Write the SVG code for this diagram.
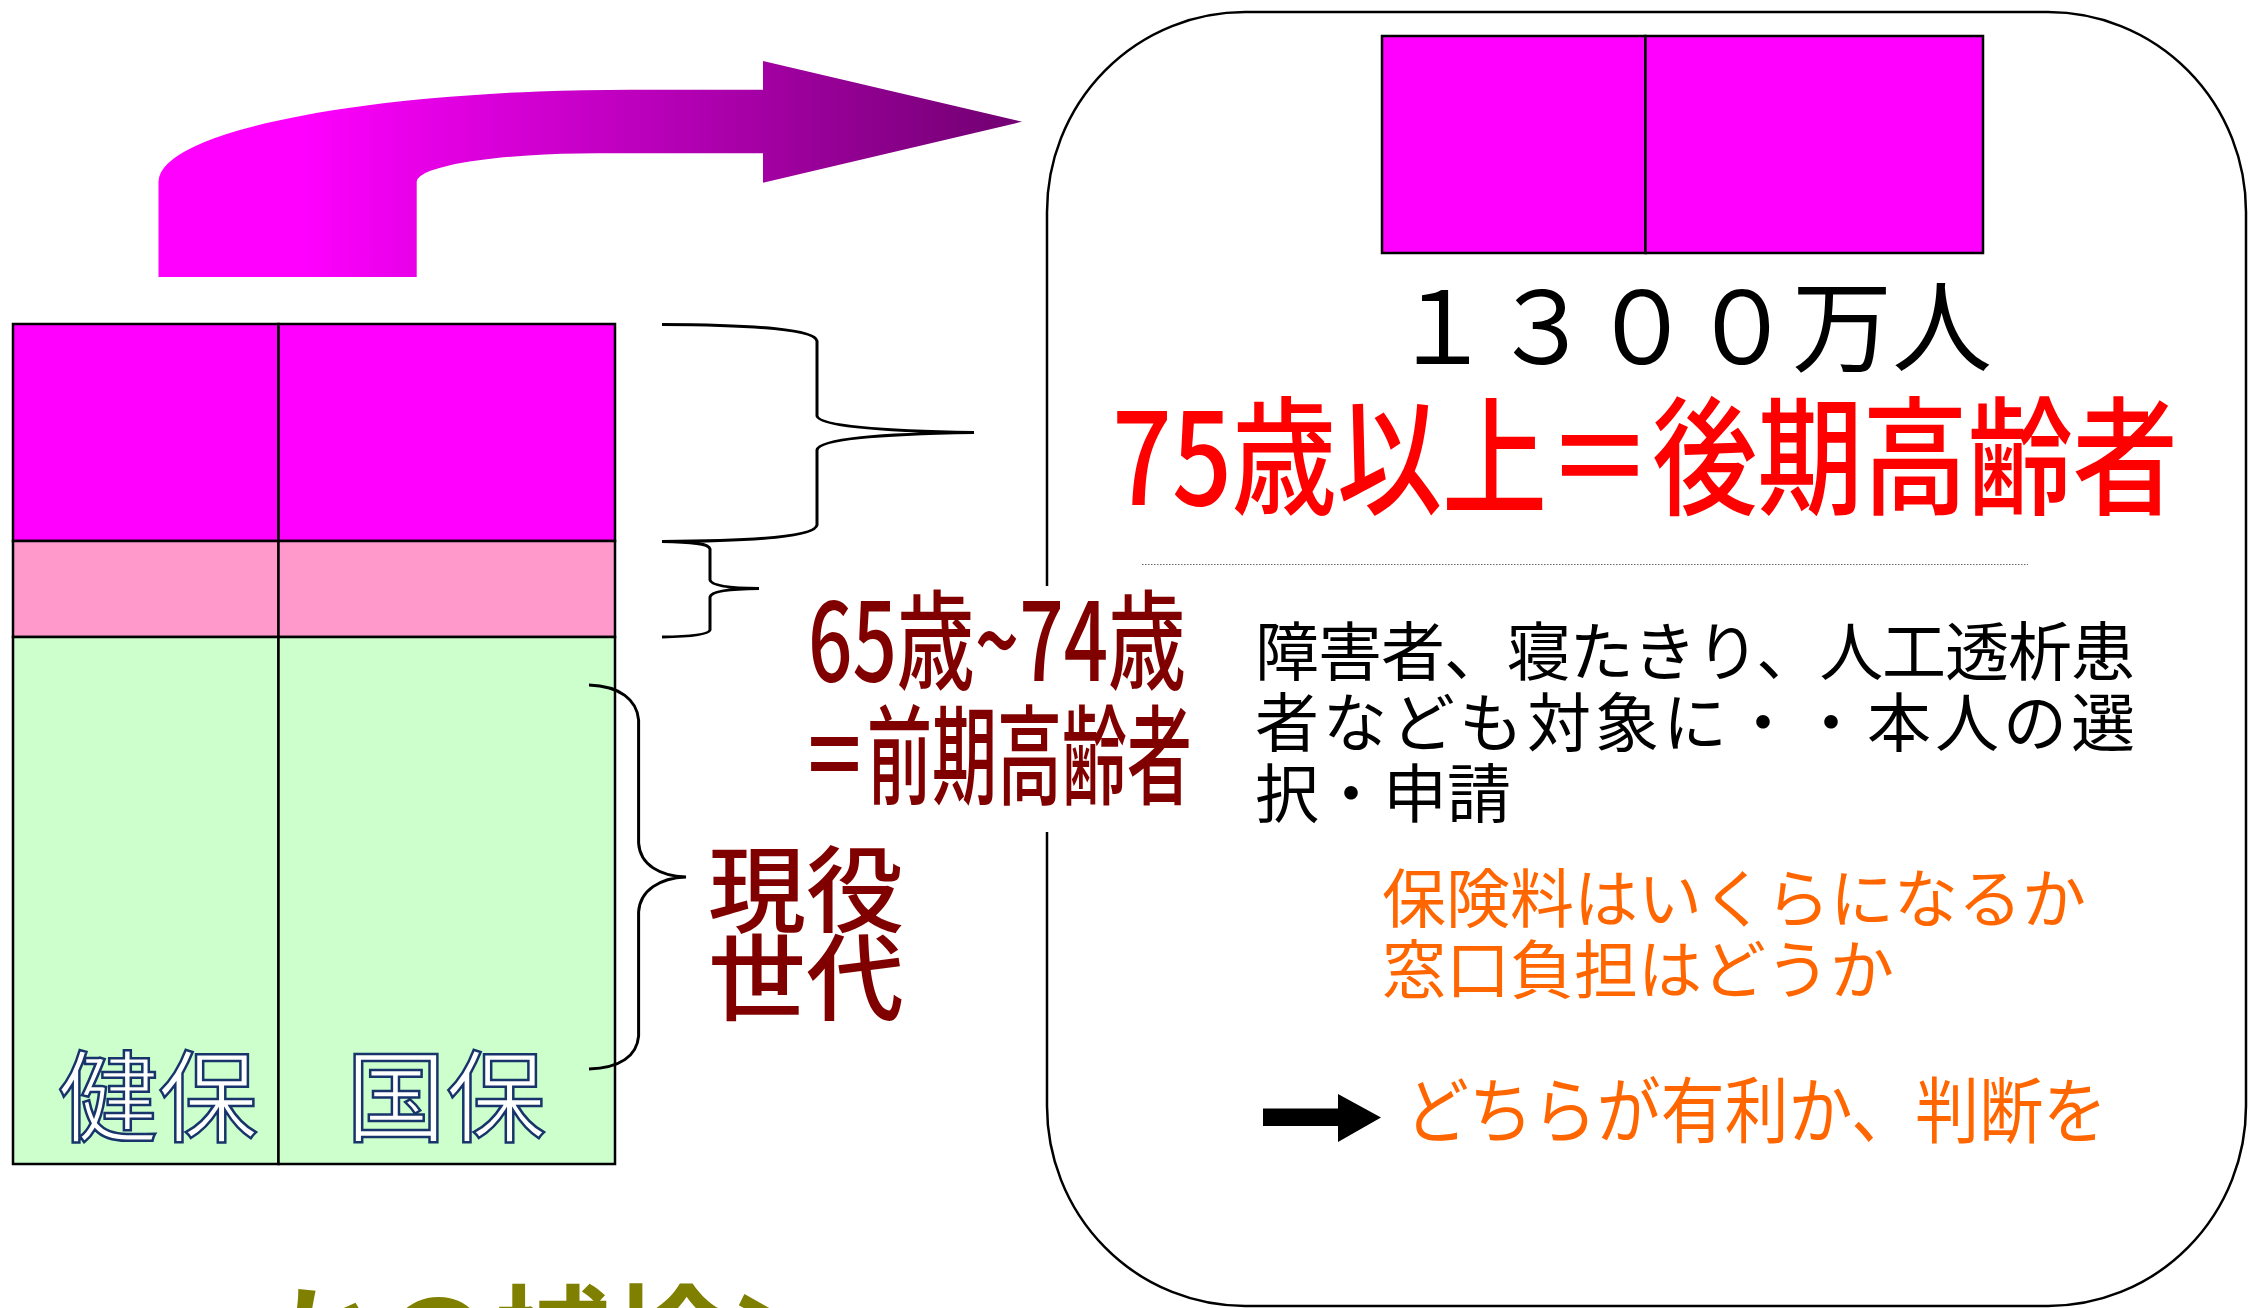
<svg xmlns="http://www.w3.org/2000/svg" width="2268" height="1308" viewBox="0 0 2268 1308">
<style>
.cell{stroke:#000;stroke-width:2.5}
.jp{font-family:"Noto Sans CJK JP","Noto Sans",sans-serif}
.brace{fill:none;stroke:#000;stroke-width:3}
.dred{fill:#800000;font-weight:500}
.outl{fill:#fff;stroke:#17356b;stroke-width:2.5;font-size:100px}
.blk{fill:#000;font-size:64px}
.org{fill:#ff6600}
</style>
<defs>
<linearGradient id="gArrow" gradientUnits="userSpaceOnUse" x1="300" y1="0" x2="990" y2="0">
<stop offset="0" stop-color="#ff00ff"/>
<stop offset="1" stop-color="#760076"/>
</linearGradient>
</defs>
<rect width="2268" height="1308" fill="#fff"/>

<g id="left-stack">
<rect class="cell" x="13" y="324" width="265.5" height="217" fill="#ff00ff"/>
<rect class="cell" x="278.5" y="324" width="336.5" height="217" fill="#ff00ff"/>
<rect class="cell" x="13" y="541" width="265.5" height="96" fill="#ff99cc"/>
<rect class="cell" x="278.5" y="541" width="336.5" height="96" fill="#ff99cc"/>
<rect class="cell" x="13" y="637" width="265.5" height="527" fill="#ccffcc"/>
<rect class="cell" x="278.5" y="637" width="336.5" height="527" fill="#ccffcc"/>
<text class="jp outl" x="158" y="1134" text-anchor="middle">健保</text>
<text class="jp outl" x="446" y="1134" text-anchor="middle">国保</text>
</g>

<g id="right-box">
<rect x="1047" y="12" width="1199" height="1294" rx="198" ry="200" fill="#fff" stroke="#000" stroke-width="2.5"/>
<rect class="cell" x="1382" y="36" width="263.5" height="217" fill="#ff00ff"/>
<rect class="cell" x="1645.5" y="36" width="337.5" height="217" fill="#ff00ff"/>
<text class="jp" x="1692" y="364" font-size="100" text-anchor="middle" fill="#000">１３００万人</text>
<text class="jp" x="1112" y="505" font-size="128" font-weight="500" fill="#ff0000" textLength="1066" lengthAdjust="spacingAndGlyphs">75歳以上＝後期高齢者</text>
<line x1="1142" y1="564.5" x2="2028" y2="564.5" stroke="#666" stroke-width="1.2" stroke-dasharray="1.5 1.5"/>
<text class="jp blk" x="1255" y="675" textLength="880" lengthAdjust="spacing">障害者、寝たきり、人工透析患</text>
<text class="jp blk" x="1255" y="746" textLength="880" lengthAdjust="spacing">者なども対象に・・本人の選</text>
<text class="jp blk" x="1255" y="817">択・申請</text>
<text class="jp org" x="1382" y="922" font-size="64">保険料はいくらになるか</text>
<text class="jp org" x="1382" y="993" font-size="64">窓口負担はどうか</text>
<text class="jp org" x="1405" y="1137" font-size="72" textLength="702" lengthAdjust="spacingAndGlyphs">どちらが有利か、判断を</text>
</g>

<g id="label-zenki">
<rect x="800" y="586" width="392" height="246" fill="#fff"/>
<text class="jp dred" x="808" y="681" font-size="108" textLength="378" lengthAdjust="spacingAndGlyphs">65歳~74歳</text>
<text class="jp dred" x="802" y="796" font-size="108" textLength="390" lengthAdjust="spacingAndGlyphs">＝前期高齢者</text>
</g>

<g id="label-genneki">
<text class="jp dred" x="708" y="925" font-size="94" textLength="196" lengthAdjust="spacingAndGlyphs">現役</text>
<text class="jp dred" x="708" y="1013" font-size="94" textLength="196" lengthAdjust="spacingAndGlyphs">世代</text>
</g>

<g id="bottom-caption">
<text class="jp" x="262" y="1390" font-size="125" font-weight="bold" fill="#808000" textLength="580" lengthAdjust="spacingAndGlyphs">かの補検＞</text>
</g>

<g id="connectors">
<path d="M158.5,277 L158.5,181.7 A472,92 0 0 1 630.5,89.7 L763,89.7 L763,61 L1022,121.7 L763,182.7 L763,153.3 L597,153.3 A180.3,28.4 0 0 0 416.7,181.7 L416.7,277 Z" fill="url(#gArrow)"/>
<path class="brace" d="M662,324.5 C760,325 815,330 817,341 L817,416 C819,426 880,431 974,432.5 C880,434 819,439 817,450 L817,525 C815,536 760,541 662,541.5"/>
<path class="brace" d="M662,541.5 C695,542 709,544 710,549 L710,580 C711,585 725,588 759,588.6 C725,589 711,592 710,597 L710,630 C709,634 695,636.5 662,637"/>
<path class="brace" d="M589,685 C620,686 637,700 638.6,720 L638.6,843 C640,865 660,876 686,877 C660,878 640,890 638.6,912 L638.6,1036 C637,1056 620,1068 589,1069"/>
<path d="M1263,1108.5 L1338,1108.5 L1338,1094 L1381,1117.5 L1338,1142 L1338,1126 L1263,1126 Z" fill="#000"/>
</g>
</svg>
